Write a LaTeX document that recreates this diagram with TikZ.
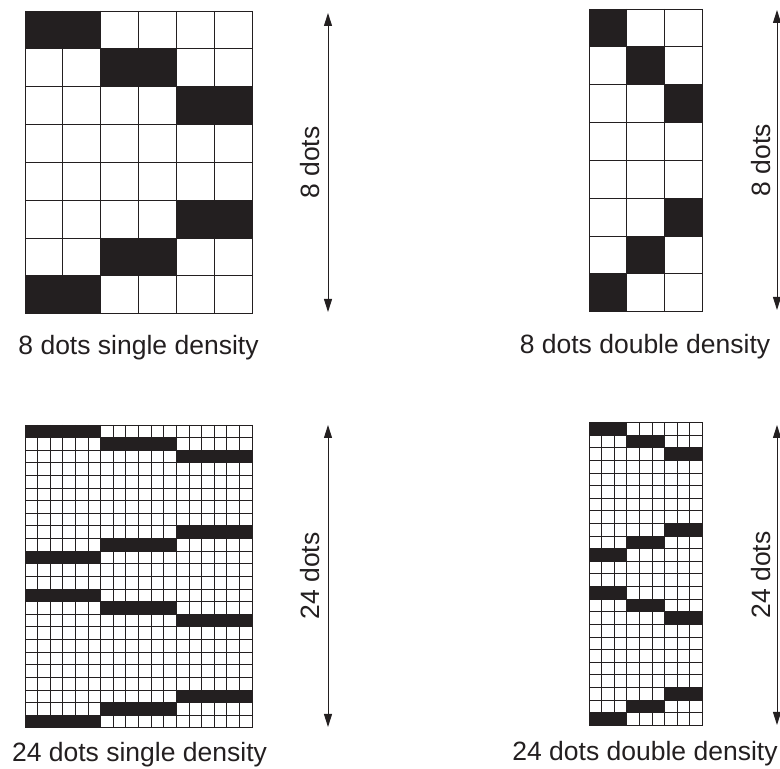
\documentclass[tikz,border=0pt]{standalone}
\usepackage{fontspec}
\setmainfont{Liberation Sans}
\usetikzlibrary{arrows.meta}

\definecolor{ink}{RGB}{35,31,32}

\begin{document}
\begin{tikzpicture}[
  x=1pt, y=1pt,
  font=\fontsize{26.5}{30}\selectfont,
  text=ink,
  pinlines/.style={draw=ink, line width=0.9pt},
  dot/.style={fill=ink},
  arr/.style={{Triangle[length=13pt, width=8pt]}-{Triangle[length=13pt, width=8pt]}, draw=ink, line width=1pt},
  lab/.style={midway, sloped, above=#1, inner sep=0pt},
  captext/.style={anchor=base, inner sep=0pt}
]
  \useasboundingbox (0,0) rectangle (780,769);

  % 8 dots single density
  \begin{scope}[shift={(25,758)}, xscale=37.85, yscale=-37.85]
    \foreach \r/\c in {0/0,1/2,2/4,5/4,6/2,7/0}
      \fill[dot] (\c,\r) rectangle ++(2,1);
    \foreach \i in {0,...,6} \draw[pinlines] (\i,0) -- (\i,8);
    \foreach \j in {0,...,8} \draw[pinlines] (0,\j) -- (6,\j);
  \end{scope}
  \coordinate (ssTop) at (328,756);
  \coordinate (ssBot) at (328,457);
  \draw[arr] (ssBot) -- node[lab=8pt] (ssLab) {8 dots} (ssTop);
  \node[captext] (ssCap) at (138.5,414) {8 dots single density};

  % 8 dots double density
  \begin{scope}[shift={(589,760)}, xscale=37.85, yscale=-37.85]
    \foreach \r/\c in {0/0,1/1,2/2,5/2,6/1,7/0}
      \fill[dot] (\c,\r) rectangle ++(1,1);
    \foreach \i in {0,...,3} \draw[pinlines] (\i,0) -- (\i,8);
    \foreach \j in {0,...,8} \draw[pinlines] (0,\j) -- (3,\j);
  \end{scope}
  \coordinate (sdTop) at (777,759);
  \coordinate (sdBot) at (777,459);
  \draw[arr] (sdBot) -- node[lab=6pt] (sdLab) {8 dots} (sdTop);
  \node[captext] (sdCap) at (645,415) {8 dots double density};

  % 24 dots single density
  \begin{scope}[shift={(25,344)}, xscale=12.617, yscale=-12.617]
    \foreach \r/\c in {0/0,1/6,2/12,8/12,9/6,10/0,13/0,14/6,15/12,21/12,22/6,23/0}
      \fill[dot] (\c,\r) rectangle ++(6,1);
    \foreach \i in {0,...,18} \draw[pinlines] (\i,0) -- (\i,24);
    \foreach \j in {0,...,24} \draw[pinlines] (0,\j) -- (18,\j);
  \end{scope}
  \coordinate (tsTop) at (328,344);
  \coordinate (tsBot) at (328,42);
  \draw[arr] (tsBot) -- node[lab=8pt] (tsLab) {24 dots} (tsTop);
  \node[captext] (tsCap) at (139.5,7.5) {24 dots single density};

  % 24 dots double density
  \begin{scope}[shift={(589,346.5)}, xscale=12.617, yscale=-12.617]
    \foreach \r/\c in {0/0,1/3,2/6,8/6,9/3,10/0,13/0,14/3,15/6,21/6,22/3,23/0}
      \fill[dot] (\c,\r) rectangle ++(3,1);
    \foreach \i in {0,...,9} \draw[pinlines] (\i,0) -- (\i,24);
    \foreach \j in {0,...,24} \draw[pinlines] (0,\j) -- (9,\j);
  \end{scope}
  \coordinate (tdTop) at (777,344);
  \coordinate (tdBot) at (777,44);
  \draw[arr] (tdBot) -- node[lab=6pt] (tdLab) {24 dots} (tdTop);
  \node[captext] (tdCap) at (645,8) {24 dots double density};
\end{tikzpicture}
\end{document}
